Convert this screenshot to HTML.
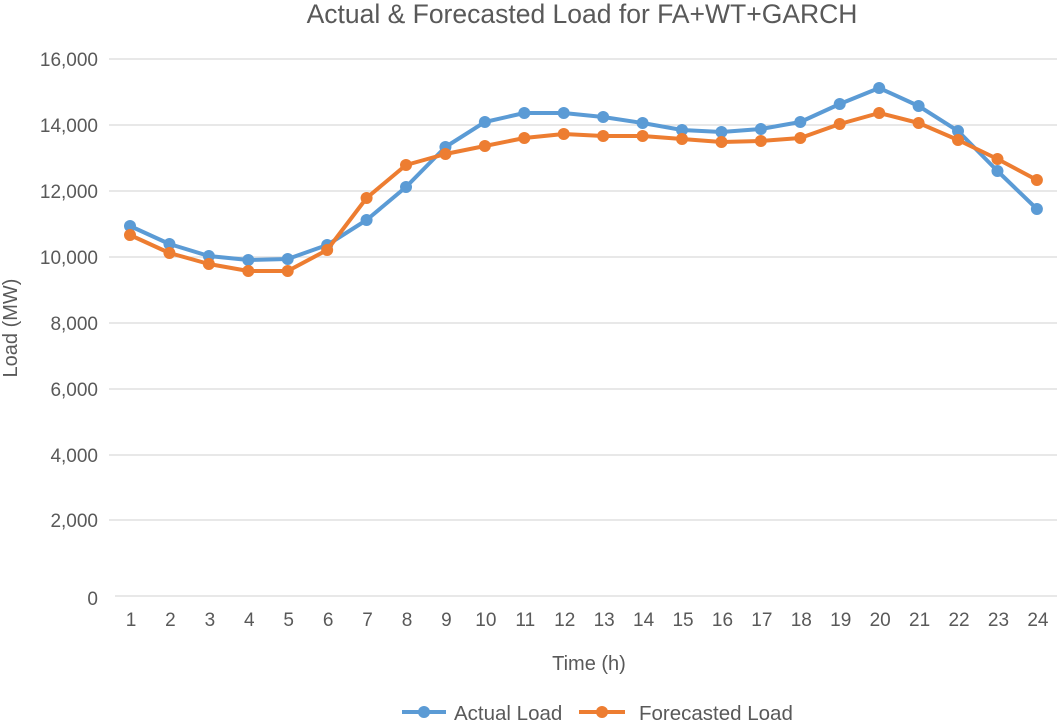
<!DOCTYPE html>
<html><head><meta charset="utf-8"><style>body{margin:0;background:#fff}svg{display:block}text{font-family:"Liberation Sans",sans-serif;fill:#595959}</style></head><body>
<svg width="1064" height="720" viewBox="0 0 1064 720">
<text x="582" y="23" font-size="26.5" text-anchor="middle">Actual &amp; Forecasted Load for FA+WT+GARCH</text>
<g stroke="#d9d9d9" stroke-width="1.3">
<line x1="109" x2="1057" y1="59" y2="59"/><line x1="109" x2="1057" y1="125" y2="125"/><line x1="109" x2="1057" y1="191" y2="191"/><line x1="109" x2="1057" y1="257" y2="257"/><line x1="109" x2="1057" y1="323" y2="323"/><line x1="109" x2="1057" y1="389" y2="389"/><line x1="109" x2="1057" y1="455" y2="455"/><line x1="109" x2="1057" y1="520" y2="520"/><line x1="115" x2="1057" y1="596" y2="596"/>
</g>
<g font-size="19" text-anchor="end">
<text x="98" y="66">16,000</text><text x="98" y="132">14,000</text><text x="98" y="198">12,000</text><text x="98" y="264">10,000</text><text x="98" y="330">8,000</text><text x="98" y="396">6,000</text><text x="98" y="462">4,000</text><text x="98" y="527">2,000</text><text x="98" y="605">0</text>
</g>
<text transform="translate(17,328) rotate(-90)" font-size="20" text-anchor="middle">Load (MW)</text>
<g font-size="19" text-anchor="middle" id="xl"></g>
<text x="589" y="670" font-size="20" text-anchor="middle">Time (h)</text>
<g id="s"></g>
<line x1="402" x2="446" y1="712" y2="712" stroke="#5b9bd5" stroke-width="4"/><circle cx="424" cy="712" r="6" fill="#5b9bd5"/>
<text x="454" y="720" font-size="20.5">Actual Load</text>
<line x1="579" x2="625" y1="712" y2="712" stroke="#ed7d31" stroke-width="4"/><circle cx="602" cy="712" r="6" fill="#ed7d31"/>
<text x="639" y="720" font-size="20.5">Forecasted Load</text>
<script>
var a=[226,244,256,260,259,245,220,187,147,122,113,113,117,123,130,132,129,122,104,88,106,131,171,209];
var f=[235,253,264,271,271,250,198,165,154,146,138,134,136,136,139,142,141,138,124,113,123,140,159,180];
var ns="http://www.w3.org/2000/svg",s=document.getElementById("s"),xl=document.getElementById("xl");
function X(i){return 130+i*39.43}
for(var i=0;i<24;i++){var t=document.createElementNS(ns,"text");t.setAttribute("x",X(i)+1);t.setAttribute("y",626);t.textContent=i+1;xl.appendChild(t);}
function ser(d,c){var p="";d.forEach(function(y,i){p+=(i?"L":"M")+X(i)+" "+y});var e=document.createElementNS(ns,"path");e.setAttribute("d",p);e.setAttribute("fill","none");e.setAttribute("stroke",c);e.setAttribute("stroke-width","4");e.setAttribute("stroke-linejoin","round");s.appendChild(e);
d.forEach(function(y,i){var k=document.createElementNS(ns,"circle");k.setAttribute("cx",X(i));k.setAttribute("cy",y);k.setAttribute("r",6);k.setAttribute("fill",c);s.appendChild(k);});}
ser(a,"#5b9bd5");ser(f,"#ed7d31");
</script>
</svg></body></html>
